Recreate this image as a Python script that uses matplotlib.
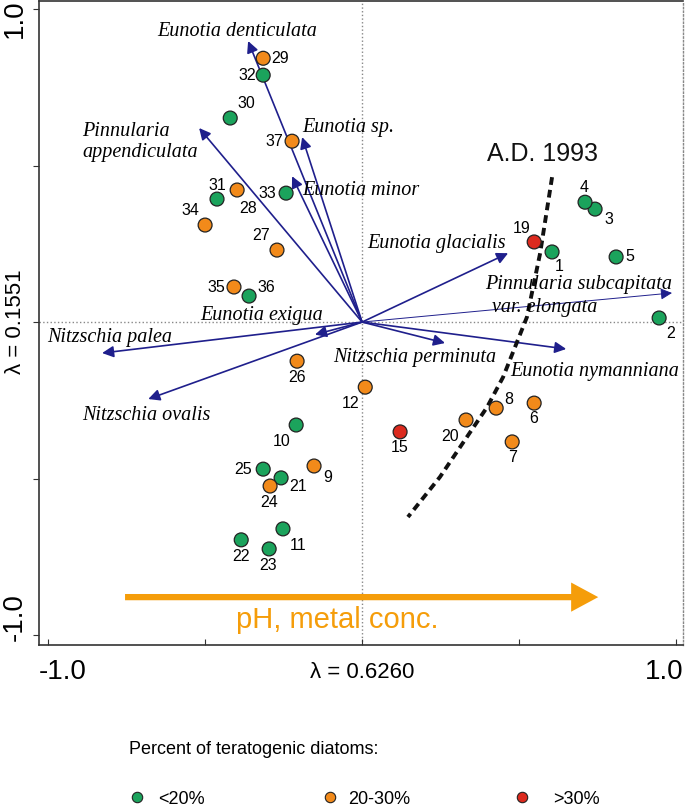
import numpy as np
import matplotlib
matplotlib.use("Agg")
import matplotlib.pyplot as plt
from matplotlib.lines import Line2D
from matplotlib.patches import FancyArrowPatch

plt.rcParams['font.family'] = ['Liberation Sans', 'DejaVu Sans']

# site scores on CCA axis 1 / axis 2
site_ids = [1, 2, 3, 4, 5, 6, 7, 8, 9, 10, 11, 12, 15, 19, 20, 21, 22, 23, 24, 25,
            26, 27, 28, 29, 30, 31, 32, 33, 34, 35, 36, 37]
site_x = [0.605, 0.946, 0.742, 0.710, 0.809, 0.548, 0.478, 0.427, -0.153, -0.210,
          -0.252, 0.010, 0.121, 0.548, 0.331, -0.258, -0.385, -0.296, -0.293, -0.315,
          -0.207, -0.271, -0.398, -0.315, -0.420, -0.462, -0.315, -0.242, -0.500, -0.408,
          -0.360, -0.223]
site_y = [0.224, 0.013, 0.361, 0.383, 0.208, -0.259, -0.383, -0.275, -0.460, -0.329,
          -0.661, -0.208, -0.351, 0.256, -0.313, -0.498, -0.696, -0.725, -0.524, -0.470,
          -0.125, 0.230, 0.422, 0.843, 0.652, 0.393, 0.789, 0.412, 0.310, 0.112,
          0.083, 0.578]
# teratology class: 0 = <20%, 1 = 20-30%, 2 = >30%
site_class = [0, 0, 0, 0, 0, 1, 1, 1, 1, 0, 0, 1, 2, 2, 1, 0, 0, 0, 1, 0,
              1, 1, 1, 1, 0, 0, 0, 0, 1, 1, 0, 1]
class_labels = ['<20%', '20-30%', '>30%']
class_colors = ['#1ba35c', '#f28a1a', '#dc2a1e']

# species scores (arrow tips)
species = ['Eunotia denticulata', 'Pinnularia\nappendiculata', 'Eunotia sp.', 'Eunotia minor',
           'Eunotia glacialis', 'Pinnularia subcapitata', 'Nitzschia perminuta',
           'Eunotia nymanniana', 'Eunotia exigua', 'Nitzschia palea', 'Nitzschia ovalis']
species_x = [-0.363, -0.519, -0.191, -0.223, 0.465, 0.987, 0.264, 0.650, -0.150, -0.828, -0.681]
species_y = [0.898, 0.620, 0.591, 0.466, 0.220, 0.093, -0.067, -0.086, -0.040, -0.099, -0.246]

# A.D. 1993 boundary
curve_x = [0.605, 0.567, 0.525, 0.449, 0.398, 0.334, 0.248, 0.146]
curve_y = [0.463, 0.220, 0.016, -0.176, -0.272, -0.367, -0.495, -0.623]

# label offsets for site numbers (pixels)
label_off = {1: (7, -15), 2: (11, -16), 3: (14, -10), 4: (-1, 15), 5: (14, 0),
             6: (0, -15), 7: (0, -16), 8: (13, 9), 9: (14, -11), 10: (-15, -16),
             11: (15, -17), 12: (-15, -16), 15: (0, -16), 19: (-13, 13), 20: (-16, -16),
             21: (17, -9), 22: (0, -17), 23: (-1, -17), 24: (-1, -16), 25: (-20, 0),
             26: (0, -16), 27: (-16, 15), 28: (11, -18), 29: (17, 0), 30: (16, 15),
             31: (0, 14), 32: (-16, 0), 33: (-19, 0), 34: (-15, 15), 35: (-18, 0),
             36: (17, 9), 37: (-18, 0)}

# species label anchor (left edge / centre y) in axis units
species_lab = [(-0.398, 0.930, 'center'), (-0.892, 0.575, 'left'), (-0.191, 0.623, 'left'),
               (-0.191, 0.422, 'left'), (0.016, 0.252, 'left'), (0.392, 0.121, 'left'),
               (-0.092, -0.112, 'left'), (0.471, -0.157, 'left'), (-0.516, 0.022, 'left'),
               (-1.003, -0.048, 'left'), (-0.892, -0.297, 'left')]

navy = '#1f1f8c'
orange = '#f59d0a'

fig = plt.figure(figsize=(6.85, 8.07), dpi=100)
ax = fig.add_axes([39 / 685, 1 - 645 / 807, 644 / 685, 644 / 807])
ax.set_xlim(-1.029, 1.022)
ax.set_ylim(-1.032, 1.026)

for s in ['left', 'bottom', 'top']:
    ax.spines[s].set_color('#333333')
    ax.spines[s].set_linewidth(1.2)
ax.spines['right'].set_linestyle(':')
ax.spines['right'].set_color('#888888')
ax.spines['right'].set_linewidth(1.0)

ax.axvline(0, color='#888888', ls=':', lw=1.0, zorder=0)
ax.axhline(0, color='#888888', ls=':', lw=1.0, zorder=0)

ax.set_xticks([-1, -0.5, 0, 0.5, 1])
ax.set_yticks([-1, -0.5, 0, 0.5, 1])
ax.tick_params(axis='x', direction='in', length=4, color='#333333', labelbottom=False)
ax.tick_params(axis='y', direction='out', length=4, color='#333333', labelleft=False)

# species arrows
for i, name in enumerate(species):
    thin = name.startswith('Pinnularia subcapitata')
    ax.annotate('', xy=(species_x[i], species_y[i]), xytext=(0, 0),
                arrowprops=dict(arrowstyle='-|>', color=navy, lw=0.7 if thin else 1.2,
                                mutation_scale=17, shrinkA=0, shrinkB=0), zorder=2)
    lx, ly, ha = species_lab[i]
    ax.text(lx, ly, name, ha=ha, va='center', fontsize=14.5, style='italic',
            family='Liberation Serif', linespacing=1.1, zorder=4)
ax.text(0.414, 0.048, 'var. elongata', ha='left', va='center', fontsize=14.5,
        style='italic', family='Liberation Serif', zorder=4)

# dashed 1993 line
ax.plot(curve_x, curve_y, color='#111111', lw=2.8, ls=(0, (2.0, 1.3)), zorder=3)
ax.text(0.575, 0.538, 'A.D. 1993', ha='center', va='center', fontsize=18, color='#111111')

# sites
cols = [class_colors[c] for c in site_class]
ax.scatter(site_x, site_y, s=100, c=cols, edgecolors='#222222', linewidths=0.9, zorder=5)
for sid, x, y in zip(site_ids, site_x, site_y):
    dx, dy = label_off[sid]
    ax.annotate(str(sid), (x, y), xytext=(dx, dy), textcoords='offset pixels',
                ha='center', va='center', fontsize=11.5, zorder=6)

# pH / metal gradient arrow
arr = FancyArrowPatch((-0.755, -0.879), (0.752, -0.879),
                      arrowstyle='simple,head_length=0.65,head_width=0.7,tail_width=0.15',
                      mutation_scale=30, color=orange, lw=0, shrinkA=0, shrinkB=0)
ax.add_patch(arr)
ax.text(-0.080, -0.952, 'pH, metal conc.', ha='center', va='center', fontsize=21, color=orange)

# axis labels
xt = ax.get_xaxis_transform()
ax.text(-0.952, -0.042, '-1.0', transform=xt, ha='center', va='center', fontsize=20, clip_on=False)
ax.text(0.0, -0.042, 'λ = 0.6260', transform=xt, ha='center', va='center', fontsize=16, clip_on=False)
ax.text(0.962, -0.042, '1.0', transform=xt, ha='center', va='center', fontsize=20, clip_on=False)
yt = ax.get_yaxis_transform()
ax.text(-0.037, 0.97, '1.0', transform=yt, ha='center', va='center', rotation=90, fontsize=20, clip_on=False)
ax.text(-0.037, 0.0, 'λ = 0.1551', transform=yt, ha='center', va='center', rotation=90, fontsize=16, clip_on=False)
ax.text(-0.037, -0.943, '-1.0', transform=yt, ha='center', va='center', rotation=90, fontsize=20, clip_on=False)

# legend
fig.text(129 / 685, 1 - 750 / 807, 'Percent of teratogenic diatoms:', ha='left', va='center', fontsize=13)
leg_mx = [137, 330, 522]
leg_tx = [158, 348, 553]
for k in range(3):
    fig.add_artist(Line2D([leg_mx[k] / 685], [1 - 797 / 807], transform=fig.transFigure,
                          marker='o', ms=7.5, mfc=class_colors[k], mec='#222222', mew=0.8, ls=''))
    fig.text(leg_tx[k] / 685, 1 - 799 / 807, class_labels[k], ha='left', va='center', fontsize=13)

fig.savefig('out.png', dpi=100)
